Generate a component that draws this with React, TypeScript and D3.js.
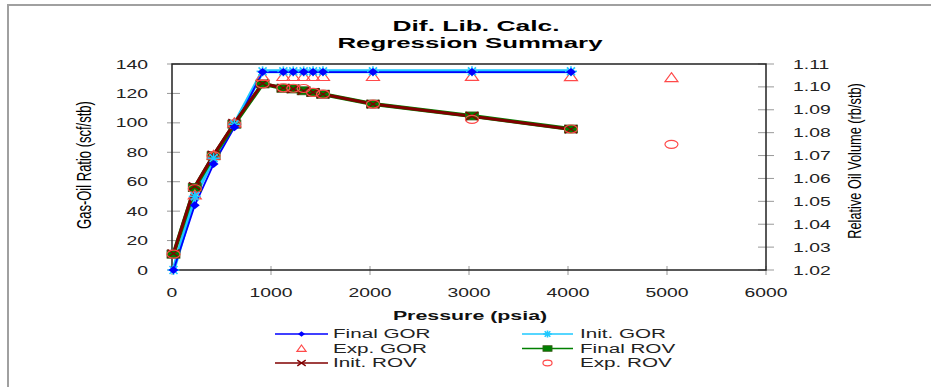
import React from "react";
import * as d3 from "d3";

// Pressure steps of the differential liberation (psia)
const pressure = [15, 230, 420, 630, 915, 1125, 1225, 1330, 1425, 1525, 2030, 3030, 4030];
// Lab GOR points (psia)
const expGorPressure = [230, 420, 630, 915, 1125, 1225, 1330, 1425, 1525, 2030, 3030, 4030, 5045];
// Lab ROV points include the reservoir-pressure step
const expRovPressure = [15, 230, 420, 630, 915, 1125, 1225, 1330, 1425, 1525, 2030, 3030, 4030, 5045];

// Gas-oil ratio (scf/stb)
const finalGOR = [0, 44, 72, 97, 134.5, 134.5, 134.5, 134.5, 134.5, 134.5, 134.5, 134.5, 134.5];
const initGOR = [0, 50, 76, 99, 135, 135, 135, 135, 135, 135, 135, 135, 135];
const expGOR = [51, 78, 100, 131.5, 131.5, 131.5, 131.5, 131.5, 131.5, 131.5, 131.6, 131.4, 130.7];

// Relative oil volume (rb/stb)
const finalROV = [1.0269, 1.056, 1.0699, 1.0837, 1.1013, 1.0994, 1.0991, 1.0983, 1.0976, 1.0968, 1.0925, 1.0873, 1.0816];
const initROV = [1.0272, 1.0565, 1.0703, 1.0842, 1.1015, 1.0995, 1.0991, 1.0983, 1.0976, 1.0968, 1.0925, 1.0872, 1.0815];
const expROV = [1.0269, 1.0555, 1.0699, 1.0837, 1.1013, 1.0996, 1.0994, 1.0993, 1.0976, 1.0968, 1.0925, 1.0858, 1.0816, 1.0749];

const xTicks = [0, 1000, 2000, 3000, 4000, 5000, 6000];
const gorTicks = [0, 20, 40, 60, 80, 100, 120, 140];
const rovTicks = [1.02, 1.03, 1.04, 1.05, 1.06, 1.07, 1.08, 1.09, 1.1, 1.11];

const FONT = "'Liberation Sans', Arial, sans-serif";
const C_FINAL_GOR = "#0000ff";
const C_INIT_GOR = "#1ec8ff";
const C_EXP = "#ff4a4a";
const C_FINAL_ROV = "#008000";
const C_INIT_ROV = "#800000";

const plot = { left: 172, right: 766, top: 64, bottom: 270 };

const x = d3.scaleLinear().domain([0, 6000]).range([plot.left, plot.right]);
const yL = d3.scaleLinear().domain([0, 140]).range([plot.bottom, plot.top]);
const yR = d3.scaleLinear().domain([1.02, 1.11]).range([plot.bottom, plot.top]);

type Pt = [number, number];
const lineGen = d3.line<Pt>().x((d) => d[0]).y((d) => d[1]);

const gorPts = (vals: number[], ps: number[]): Pt[] => vals.map((v, i) => [x(ps[i]), yL(v)]);
const rovPts = (vals: number[], ps: number[]): Pt[] => vals.map((v, i) => [x(ps[i]), yR(v)]);

type MP = { cx: number; cy: number; k?: number };

function Diamond({ cx, cy, k = 1 }: MP) {
  return <path d={`M${cx - 5 * k},${cy} L${cx},${cy - 4 * k} L${cx + 5 * k},${cy} L${cx},${cy + 4 * k} Z`} fill={C_FINAL_GOR} />;
}
function Star({ cx, cy, k = 1 }: MP) {
  return (
    <g stroke={C_INIT_GOR} strokeWidth={1.6}>
      <line x1={cx - 6 * k} y1={cy} x2={cx + 6 * k} y2={cy} />
      <line x1={cx - 4 * k} y1={cy - 4 * k} x2={cx + 4 * k} y2={cy + 4 * k} />
      <line x1={cx - 4 * k} y1={cy + 4 * k} x2={cx + 4 * k} y2={cy - 4 * k} />
      <line x1={cx} y1={cy - 5 * k} x2={cx} y2={cy + 5 * k} />
    </g>
  );
}
function Tri({ cx, cy, k = 1 }: MP) {
  return (
    <path
      d={`M${cx},${cy - 5 * k} L${cx + 6.5 * k},${cy + 4 * k} L${cx - 6.5 * k},${cy + 4 * k} Z`}
      fill="none" stroke={C_EXP} strokeWidth={1.2}
    />
  );
}
function Square({ cx, cy, k = 1 }: MP) {
  return <rect x={cx - 6.5 * k} y={cy - 4 * k} width={13 * k} height={8 * k} fill={C_FINAL_ROV} stroke="#3a5a1a" strokeWidth={0.8} />;
}
function Cross({ cx, cy, k = 1 }: MP) {
  return (
    <g stroke={C_INIT_ROV} strokeWidth={1.4}>
      <line x1={cx - 6 * k} y1={cy - 4 * k} x2={cx + 6 * k} y2={cy + 4 * k} />
      <line x1={cx - 6 * k} y1={cy + 4 * k} x2={cx + 6 * k} y2={cy - 4 * k} />
    </g>
  );
}
function Ring({ cx, cy, k = 1 }: MP) {
  return <ellipse cx={cx} cy={cy} rx={6.5 * k} ry={4 * k} fill="none" stroke={C_EXP} strokeWidth={1.2} />;
}

// Horizontally stretched text helper
function SText({
  x0, y0, sx, size, anchor = "start", weight = "normal", children, fill = "#111",
}: {
  x0: number; y0: number; sx: number; size: number; anchor?: string; weight?: string; children: React.ReactNode; fill?: string;
}) {
  return (
    <g transform={`translate(${x0},${y0}) scale(${sx},1)`}>
      <text x={0} y={0} textAnchor={anchor as any} fontFamily={FONT} fontSize={size} fontWeight={weight} fill={fill}>
        {children}
      </text>
    </g>
  );
}

const legendItems = [
  { label: "Final GOR", col: 0, row: 0, line: C_FINAL_GOR, M: Diamond },
  { label: "Init. GOR", col: 1, row: 0, line: C_INIT_GOR, M: Star },
  { label: "Exp. GOR", col: 0, row: 1, line: null, M: Tri },
  { label: "Final ROV", col: 1, row: 1, line: C_FINAL_ROV, M: Square },
  { label: "Init. ROV", col: 0, row: 2, line: C_INIT_ROV, M: Cross },
  { label: "Exp. ROV", col: 1, row: 2, line: null, M: Ring },
];

export default function App() {
  const fg = gorPts(finalGOR, pressure);
  const ig = gorPts(initGOR, pressure);
  const eg = gorPts(expGOR, expGorPressure);
  const fr = rovPts(finalROV, pressure);
  const ir = rovPts(initROV, pressure);
  const er = rovPts(expROV, expRovPressure);

  return (
    <svg width={931} height={387} style={{ position: "absolute", left: 0, top: 0, background: "#fff" }}>
      <rect x={0} y={0} width={931} height={387} fill="#fff" />
      {/* outer frame */}
      <path d="M8,387 L8,5 L931,5" fill="none" stroke="#a0a0a0" strokeWidth={2} />

      {/* title */}
      <text x={476} y={31} textAnchor="middle" fontFamily={FONT} fontSize={14} fontWeight="bold" textLength={167} lengthAdjust="spacingAndGlyphs">
        Dif. Lib. Calc.
      </text>
      <text x={470} y={47.5} textAnchor="middle" fontFamily={FONT} fontSize={14} fontWeight="bold" textLength={265} lengthAdjust="spacingAndGlyphs">
        Regression Summary
      </text>

      {/* ticks */}
      <g stroke="#999" strokeWidth={1}>
        {gorTicks.map((t) => (
          <line key={"gl" + t} x1={plot.left - 5} x2={plot.left + 8} y1={yL(t)} y2={yL(t)} />
        ))}
        {rovTicks.map((t) => (
          <line key={"rl" + t} x1={plot.right - 8} x2={plot.right + 8} y1={yR(t)} y2={yR(t)} />
        ))}
        {xTicks.map((t) => (
          <line key={"xl" + t} x1={x(t)} x2={x(t)} y1={plot.bottom - 4} y2={plot.bottom + 5} />
        ))}
      </g>

      {/* plot frame */}
      <rect x={plot.left} y={plot.top} width={plot.right - plot.left} height={plot.bottom - plot.top} fill="none" stroke="#222" strokeWidth={1.5} />

      {/* tick labels */}
      {gorTicks.map((t) => (
        <SText key={"gt" + t} x0={148} y0={yL(t) + 4.6} sx={1.49} size={13} anchor="end" fill="#222">
          {t}
        </SText>
      ))}
      {rovTicks.map((t) => (
        <SText key={"rt" + t} x0={793} y0={yR(t) + 4.6} sx={1.49} size={13} fill="#222">
          {d3.format(".2f")(t)}
        </SText>
      ))}
      {xTicks.map((t) => (
        <SText key={"xt" + t} x0={x(t)} y0={297} sx={1.49} size={13} anchor="middle" fill="#222">
          {t}
        </SText>
      ))}

      {/* axis titles */}
      <SText x0={470} y0={320} sx={1.78} size={12} anchor="middle" weight="bold">
        Pressure (psia)
      </SText>
      <g transform="translate(91,165) scale(1.5,1) rotate(-90)">
        <text textAnchor="middle" fontFamily={FONT} fontSize={13} fill="#000">Gas-Oil Ratio (scf/stb)</text>
      </g>
      <g transform="translate(861,161) scale(1.5,1) rotate(-90)">
        <text textAnchor="middle" fontFamily={FONT} fontSize={12.8} fill="#000">Relative Oil Volume (rb/stb)</text>
      </g>

      {/* series lines */}
      <path d={lineGen(ig) ?? ""} fill="none" stroke={C_INIT_GOR} strokeWidth={4} strokeLinejoin="round" />
      <path d={lineGen(fg) ?? ""} fill="none" stroke={C_FINAL_GOR} strokeWidth={1.8} strokeLinejoin="round" />
      <path d={lineGen(fr) ?? ""} fill="none" stroke={C_FINAL_ROV} strokeWidth={4} strokeLinejoin="round" />
      <path d={lineGen(ir) ?? ""} fill="none" stroke={C_INIT_ROV} strokeWidth={3} strokeLinejoin="round" />

      {/* markers */}
      {fr.map(([cx, cy], i) => <Square key={"fr" + i} cx={cx} cy={cy} />)}
      {ir.map(([cx, cy], i) => <Cross key={"ir" + i} cx={cx} cy={cy} />)}
      {er.map(([cx, cy], i) => <Ring key={"er" + i} cx={cx} cy={cy} />)}
      {eg.map(([cx, cy], i) => <Tri key={"eg" + i} cx={cx} cy={cy} />)}
      {ig.map(([cx, cy], i) => <Star key={"ig" + i} cx={cx} cy={cy} />)}
      {fg.map(([cx, cy], i) => <Diamond key={"fg" + i} cx={cx} cy={cy} />)}

      {/* legend */}
      {legendItems.map((it) => {
        const x0 = it.col === 0 ? 275 : 522;
        const x1 = it.col === 0 ? 328 : 573;
        const tx = it.col === 0 ? 333 : 580;
        const y = 334 + it.row * 14.5;
        const mid = (x0 + x1) / 2;
        const M = it.M;
        return (
          <g key={it.label}>
            {it.line && <line x1={x0} x2={x1} y1={y} y2={y} stroke={it.line} strokeWidth={1.6} />}
            <M cx={mid} cy={y} k={0.7} />
            <SText x0={tx} y0={y + 4.3} sx={1.72} size={12} fill="#222">
              {it.label}
            </SText>
          </g>
        );
      })}
    </svg>
  );
}
